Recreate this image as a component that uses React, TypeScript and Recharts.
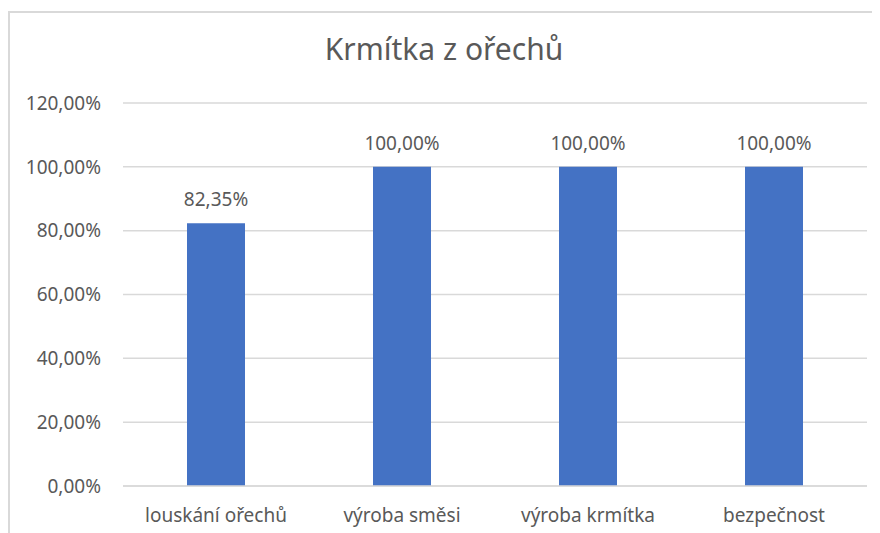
import { BarChart, Bar, XAxis, YAxis, CartesianGrid, LabelList } from "recharts";

const categories = ["louskání ořechů", "výroba směsi", "výroba krmítka", "bezpečnost"];
const values = [0.8235, 1, 1, 1];
const yTicks = [0, 0.2, 0.4, 0.6, 0.8, 1, 1.2];

const data = categories.map((name, i) => ({ name, value: values[i] }));

const fmt = (v: number) => (v * 100).toFixed(2).replace(".", ",") + "%";

const FONT = "'Noto Sans', sans-serif";
const TEXT = "#595959";

export default function App() {
  return (
    <div style={{ position: "relative", width: 872, height: 525, overflow: "hidden", fontFamily: FONT }}>
      <div
        style={{
          position: "absolute",
          left: 0,
          top: 3,
          width: 900,
          height: 600,
          borderLeft: "2px solid #d9d9d9",
          borderTop: "2px solid #d9d9d9",
        }}
      />
      <div
        style={{
          position: "absolute",
          left: 0,
          right: 0,
          top: 20,
          textAlign: "center",
          fontSize: 30,
          color: TEXT,
        }}
      >
        Krmítka z ořechů
      </div>
      <div style={{ position: "absolute", left: 0, top: 0 }}>
        <BarChart
          width={872}
          height={525}
          data={data}
          margin={{ top: 95, right: 13, bottom: 17, left: 0 }}
        >
          <CartesianGrid vertical={false} stroke="#d9d9d9" strokeWidth={1.5} />
          <XAxis
            dataKey="name"
            height={30}
            axisLine={{ stroke: "#d9d9d9", strokeWidth: 1.5 }}
            tickLine={false}
            tickSize={0}
            tickMargin={23}
            tick={{ fill: TEXT, fontSize: 19, fontFamily: FONT }}
          />
          <YAxis
            width={115}
            domain={[0, 1.2]}
            ticks={yTicks}
            tickFormatter={fmt}
            axisLine={false}
            tickLine={false}
            tickSize={0}
            tickMargin={22}
            tick={{ fill: TEXT, fontSize: 19, fontFamily: FONT }}
          />
          <Bar dataKey="value" fill="#4472C4" barSize={58} isAnimationActive={false}>
            <LabelList
              dataKey="value"
              position="top"
              offset={17}
              formatter={(v: any) => fmt(Number(v))}
              style={{ fill: TEXT, fontSize: 19, fontFamily: FONT }}
            />
          </Bar>
        </BarChart>
      </div>
    </div>
  );
}
